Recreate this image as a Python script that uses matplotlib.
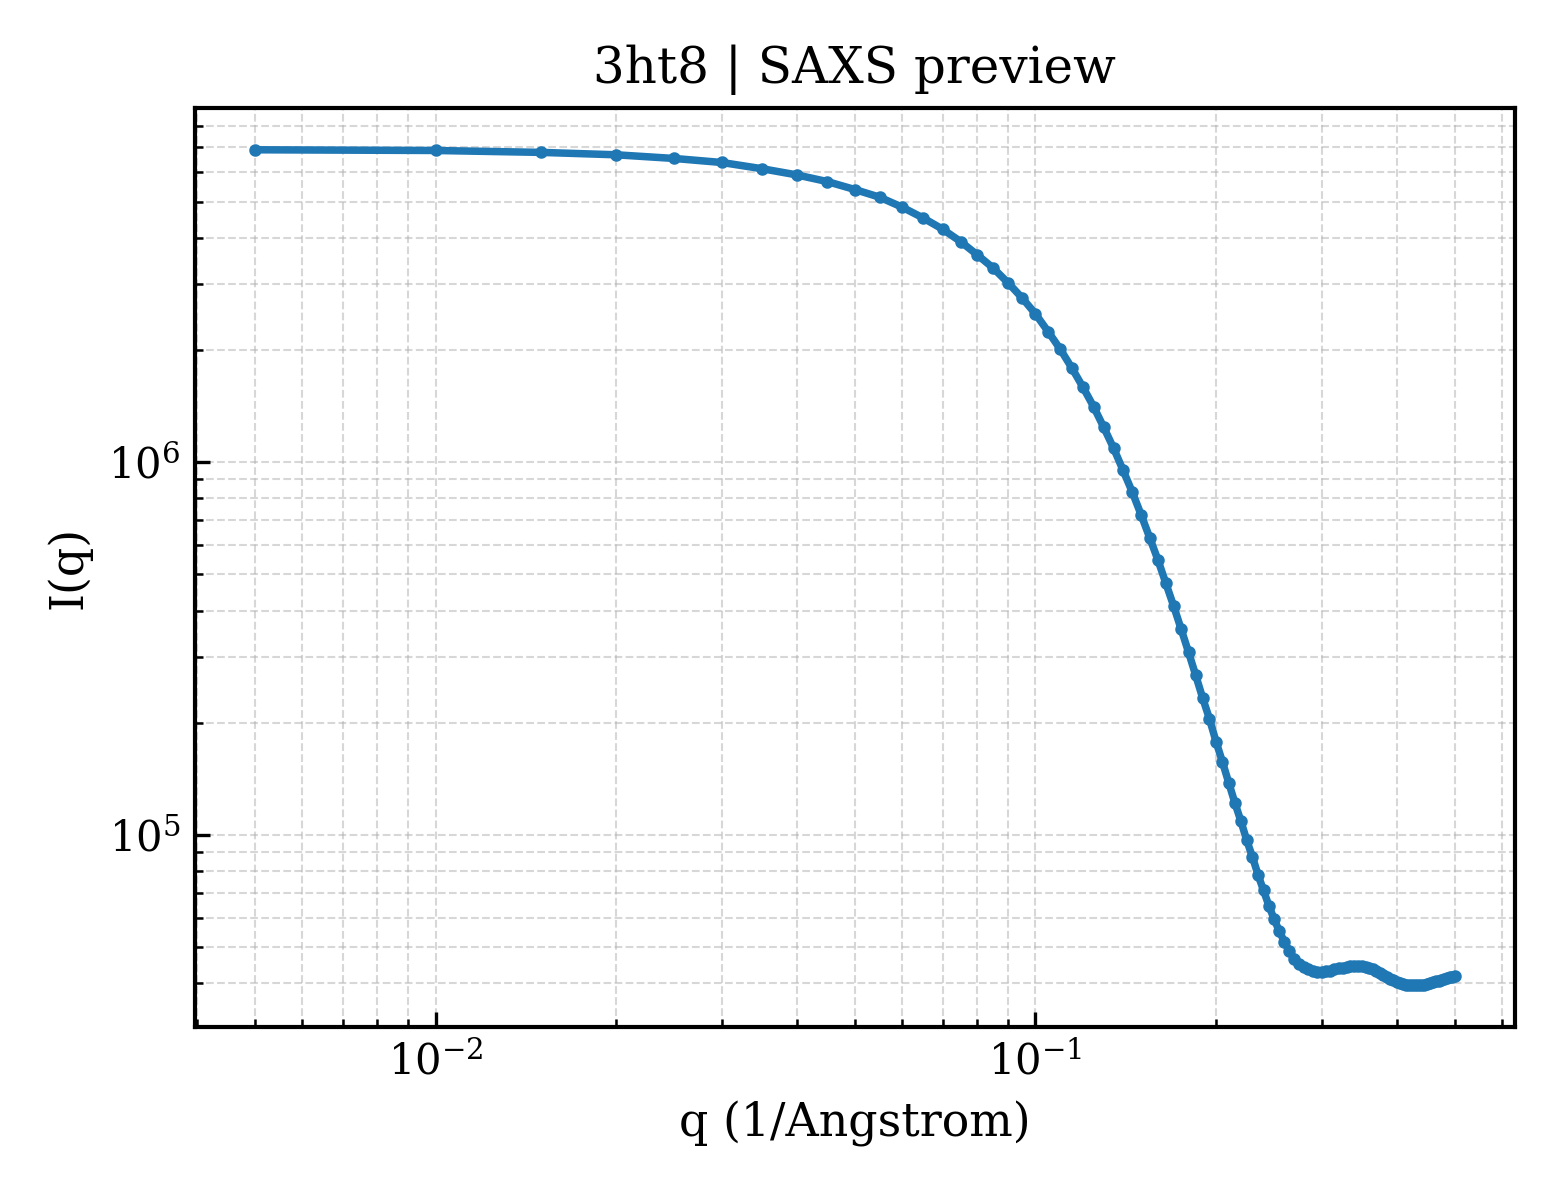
import matplotlib
matplotlib.use("Agg")
import matplotlib.pyplot as plt

plt.rcParams["font.family"] = "DejaVu Serif"
plt.rcParams["mathtext.fontset"] = "dejavuserif"

# scattering vector (1/Angstrom)
q = [0.005, 0.010, 0.015, 0.020, 0.025, 0.030, 0.035, 0.040, 0.045, 0.050,
     0.055, 0.060, 0.065, 0.070, 0.075, 0.080, 0.085, 0.090, 0.095, 0.100,
     0.105, 0.110, 0.115, 0.120, 0.125, 0.130, 0.135, 0.140, 0.145, 0.150,
     0.155, 0.160, 0.165, 0.170, 0.175, 0.180, 0.185, 0.190, 0.195, 0.200,
     0.205, 0.210, 0.215, 0.220, 0.225, 0.230, 0.235, 0.240, 0.245, 0.250,
     0.255, 0.260, 0.265, 0.270, 0.275, 0.280, 0.285, 0.290, 0.295, 0.300,
     0.305, 0.310, 0.315, 0.320, 0.325, 0.330, 0.335, 0.340, 0.345, 0.350,
     0.355, 0.360, 0.365, 0.370, 0.375, 0.380, 0.385, 0.390, 0.395, 0.400,
     0.405, 0.410, 0.415, 0.420, 0.425, 0.430, 0.435, 0.440, 0.445, 0.450,
     0.455, 0.460, 0.465, 0.470, 0.475, 0.480, 0.485, 0.490, 0.495, 0.500]

# intensity, in units of 1e3
intensity_k = [6890, 6860, 6780, 6680, 6530, 6370, 6130, 5900, 5660, 5390,
               5140, 4830, 4520, 4220, 3910, 3600, 3320, 3030, 2760, 2500,
               2240, 2010, 1790, 1590, 1410, 1240, 1090, 951, 832, 723,
               628, 547, 473, 411, 356, 309, 268, 233, 205, 178,
               157, 138, 122, 109, 96.8, 87.3, 78.2, 71.0, 64.6, 59.4,
               55.2, 51.7, 48.8, 46.5, 45.2, 44.3, 43.6, 43.2, 43.0, 43.0,
               43.1, 43.3, 43.6, 43.9, 44.1, 44.3, 44.5, 44.6, 44.6, 44.5,
               44.3, 44.0, 43.6, 43.1, 42.6, 42.1, 41.6, 41.1, 40.8, 40.4,
               40.1, 39.9, 39.7, 39.6, 39.5, 39.5, 39.5, 39.6, 39.7, 39.9,
               40.1, 40.3, 40.5, 40.7, 40.9, 41.1, 41.3, 41.5, 41.7, 41.9]

intensity = [v * 1e3 for v in intensity_k]

fig, ax = plt.subplots(figsize=(5.2, 4), dpi=300)

ax.plot(q, intensity, "-o", color="#1f77b4", lw=1.8, ms=2)
ax.set_xscale("log")
ax.set_yscale("log")

ax.set_title("3ht8 | SAXS preview", fontsize=12)
ax.set_xlabel("q (1/Angstrom)", fontsize=11)
ax.set_ylabel("I(q)", fontsize=11)

ax.grid(True, which="both", ls="--", lw=0.5, alpha=0.5)
ax.tick_params(which="both", direction="in", labelsize=10)
for sp in ax.spines.values():
    sp.set_linewidth(1.0)

fig.subplots_adjust(left=0.125, right=0.971, top=0.91, bottom=0.144)
fig.savefig("out.png", dpi=300)
